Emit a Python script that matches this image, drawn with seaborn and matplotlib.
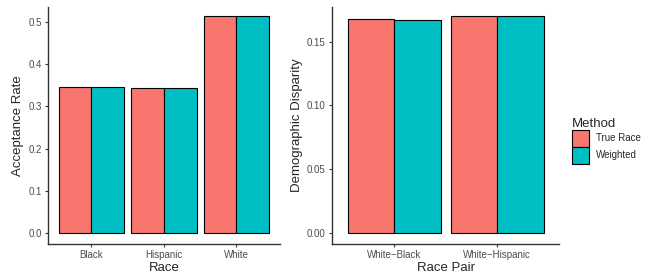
import pandas as pd
import seaborn as sns
import matplotlib.pyplot as plt

# data
races = ["Black", "Hispanic", "White"]
rate_true = [0.345, 0.343, 0.514]
rate_weighted = [0.345, 0.343, 0.514]

pairs = ["White\u2212Black", "White\u2212Hispanic"]
disp_true = [0.1673, 0.1699]
disp_weighted = [0.1668, 0.1699]

methods = ["True Race", "Weighted"]
colors = ["#F8766D", "#00BFC4"]

sns.set_style("white")
plt.rcParams['font.family'] = ['Liberation Sans', 'DejaVu Sans']

df1 = pd.DataFrame({
    "Race": races * 2,
    "Rate": rate_true + rate_weighted,
    "Method": [methods[0]] * 3 + [methods[1]] * 3,
})
df2 = pd.DataFrame({
    "Pair": pairs * 2,
    "Disp": disp_true + disp_weighted,
    "Method": [methods[0]] * 2 + [methods[1]] * 2,
})

fig = plt.figure(figsize=(6.55, 2.77), dpi=100)
ax1 = fig.add_axes([0.0733, 0.119, 0.354, 0.856])
ax2 = fig.add_axes([0.507, 0.119, 0.347, 0.856])

sns.barplot(data=df1, x="Race", y="Rate", hue="Method", palette=colors, saturation=1,
            width=0.9, edgecolor="black", linewidth=0.8, errorbar=None, ax=ax1)
sns.barplot(data=df2, x="Pair", y="Disp", hue="Method", palette=colors, saturation=1,
            width=0.9, edgecolor="black", linewidth=0.8, errorbar=None, ax=ax2)

ax1.set_xlim(-0.6, 2.6)
ax1.set_ylim(-0.0257, 0.5355)
ax1.set_yticks([0, 0.1, 0.2, 0.3, 0.4, 0.5])
ax1.set_yticklabels(["0.0", "0.1", "0.2", "0.3", "0.4", "0.5"])
ax1.set_xlabel("Race", fontsize=9.5, labelpad=1)
ax1.set_ylabel("Acceptance Rate", fontsize=9.5, labelpad=3)

ax2.set_xlim(-0.6, 1.6)
ax2.set_ylim(-0.0086, 0.1771)
ax2.set_yticks([0, 0.05, 0.10, 0.15])
ax2.set_yticklabels(["0.00", "0.05", "0.10", "0.15"])
ax2.set_xlabel("Race Pair", fontsize=9.5, labelpad=1)
ax2.set_ylabel("Demographic Disparity", fontsize=9.5, labelpad=3)

for ax in (ax1, ax2):
    for s in ["top", "right"]:
        ax.spines[s].set_visible(False)
    for s in ["left", "bottom"]:
        ax.spines[s].set_color("#333333")
        ax.spines[s].set_linewidth(1.0)
    ax.tick_params(axis="both", labelsize=7, labelcolor="#4D4D4D",
                   length=2.5, width=0.8, color="#333333", pad=2,
                   bottom=True, left=True)
    ax.get_legend().remove()

handles = [plt.Rectangle((0, 0), 1, 1, facecolor=c, edgecolor="black", linewidth=0.8)
           for c in colors]
leg = fig.legend(handles, methods, title="Method", loc="upper left",
                 bbox_to_anchor=(0.867, 0.588), frameon=False, fontsize=7,
                 title_fontsize=9.5, handlelength=1.75, handleheight=2.3,
                 labelspacing=0.0, handletextpad=0.7, borderaxespad=0)
leg._legend_box.align = "left"

fig.savefig("out.png", dpi=100)
